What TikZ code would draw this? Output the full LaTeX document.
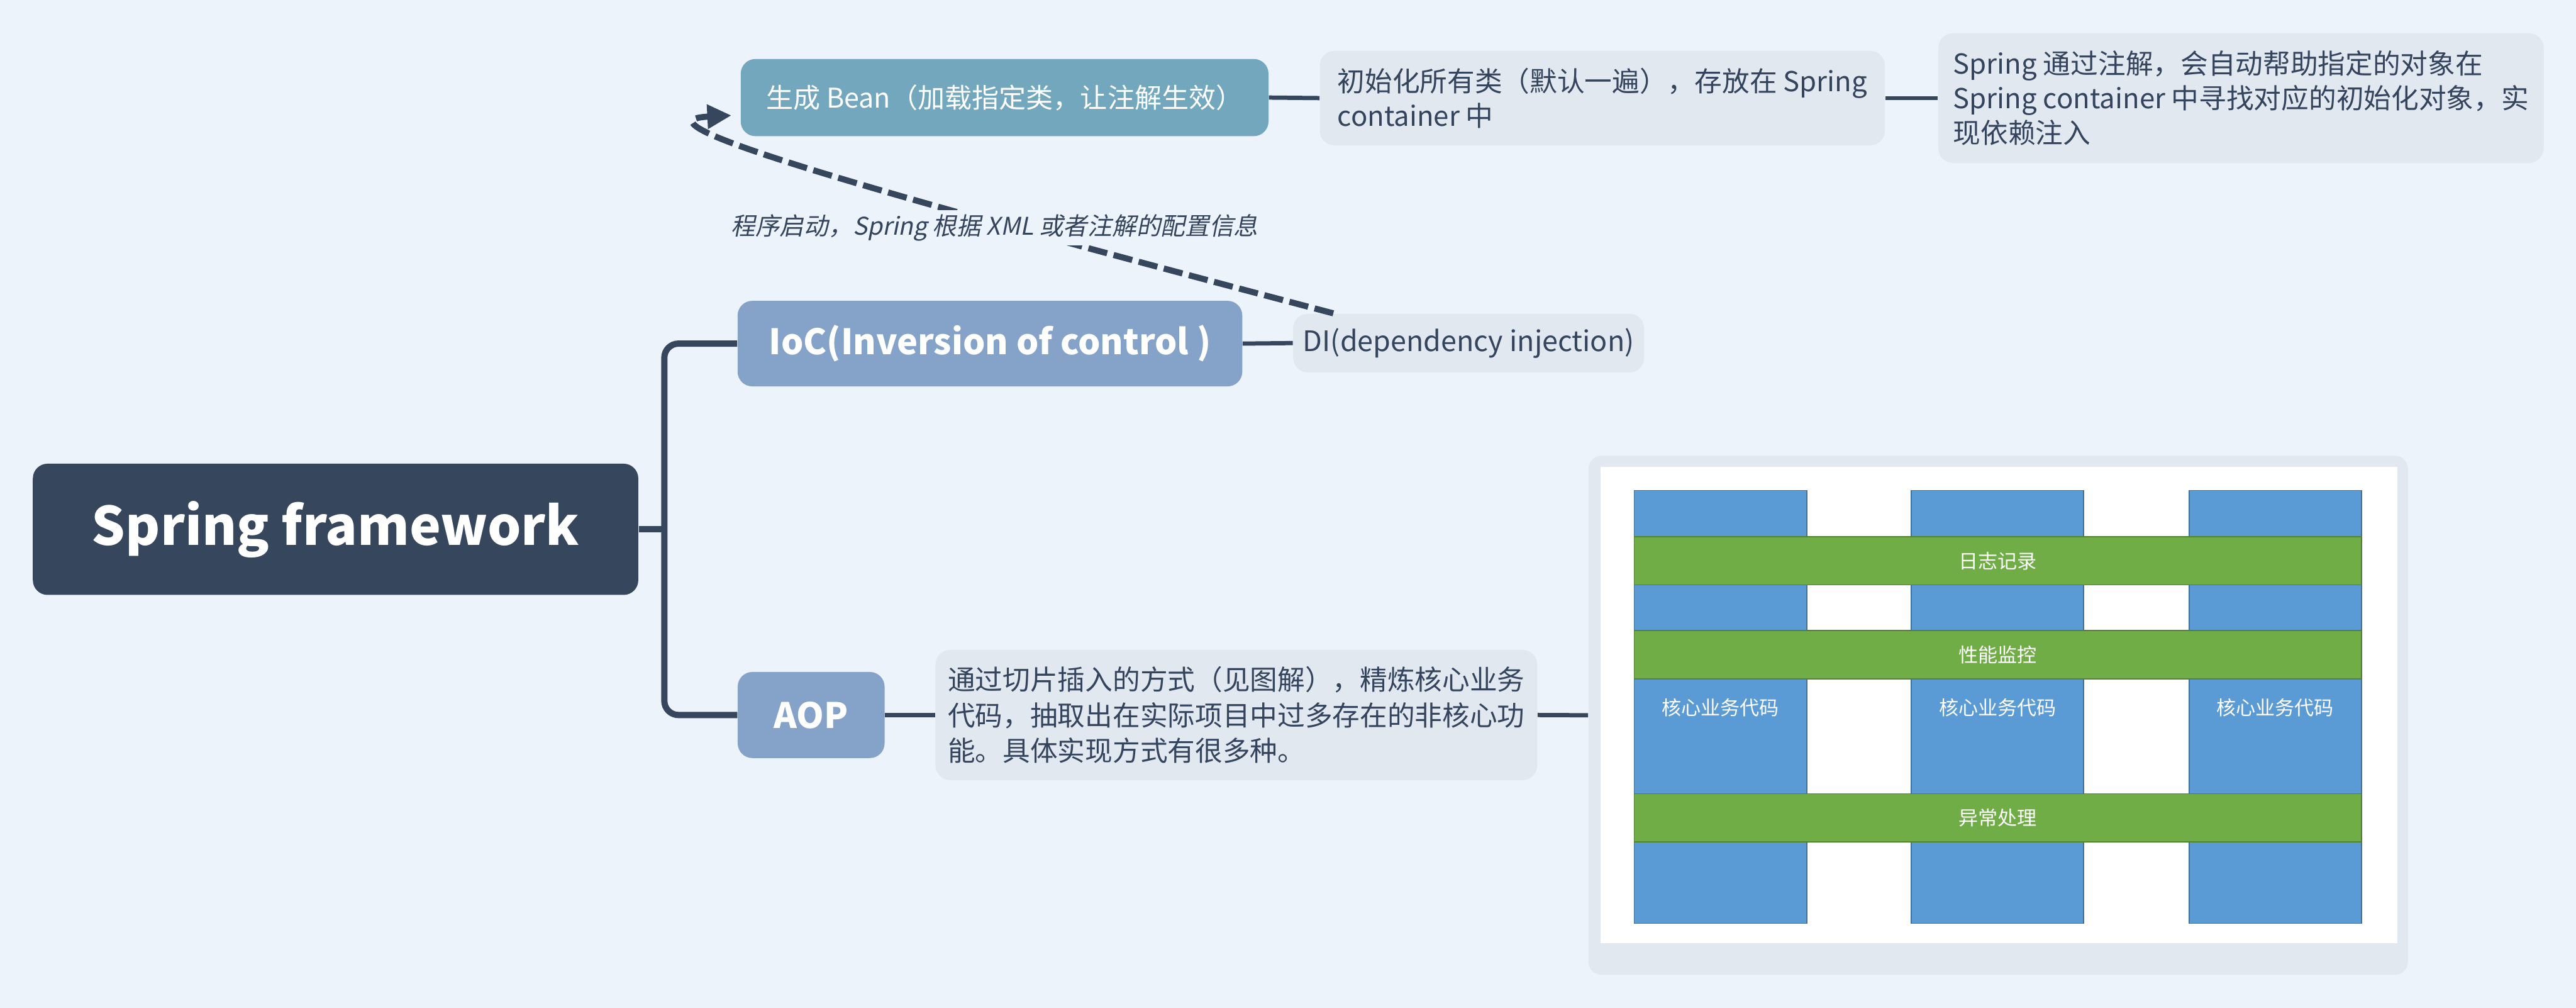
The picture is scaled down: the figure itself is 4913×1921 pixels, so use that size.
\documentclass[tikz,border=0pt]{standalone}
\usepackage{fontspec}
\setmainfont{Noto Sans CJK SC}
\newfontfamily\slantcjk{Noto Sans CJK SC}[FakeSlant=0.2]
\usepackage{tikz}
\usetikzlibrary{arrows.meta}

\definecolor{bgc}{HTML}{ECF3FA}
\definecolor{rootc}{HTML}{36465D}
\definecolor{topicc}{HTML}{85A3C9}
\definecolor{beanc}{HTML}{72A7BD}
\definecolor{notec}{HTML}{E1E8F0}
\definecolor{inkc}{HTML}{34445C}
\definecolor{codec}{HTML}{5B9BD5}
\definecolor{codeline}{HTML}{41719C}
\definecolor{aspc}{HTML}{70AD47}
\definecolor{aspline}{HTML}{548235}

\begin{document}
\begin{tikzpicture}[x=0.01cm, y=-0.01cm,
  topic/.style={rounded corners=0.28cm, inner sep=0pt, text=white},
  note/.style={fill=notec, rounded corners=0.28cm, inner sep=0pt, text=inkc,
    align=left, font=\fontsize{14.9}{18.8}\selectfont},
  branch/.style={draw=rootc, line width=3.4pt},
  twig/.style={draw=rootc, line width=2.3pt},
  small/.style={text=white, inner sep=0pt, font=\fontsize{10.6}{12}\selectfont}]
  % Canvas
  \useasboundingbox (0,0) rectangle (4913,1921);
  \fill[bgc] (0,0) rectangle (4913,1921);
  % Root and main topics
  \node[topic, fill=rootc, minimum width=11.54cm, minimum height=2.50cm,
    font=\fontsize{28.7}{34}\selectfont\bfseries] (root) at (640,1009) {Spring framework};
  \node[topic, fill=topicc, minimum width=9.62cm, minimum height=1.63cm,
    font=\fontsize{19}{23}\selectfont\bfseries] (ioc) at (1888,655) {IoC(Inversion of control )};
  \node[topic, fill=topicc, minimum width=2.80cm, minimum height=1.64cm,
    font=\fontsize{19}{23}\selectfont\bfseries] (aop) at (1547,1363) {AOP};
  \node[topic, fill=beanc, minimum width=10.06cm, minimum height=1.47cm,
    font=\fontsize{14.7}{18}\selectfont] (bean) at (1916,186) {生成 Bean（加载指定类，让注解生效）};
  % Notes
  \node[note, minimum width=10.77cm, minimum height=1.80cm] (init) at (3056,187)
    {初始化所有类（默认一遍），存放在 Spring\\container 中};
  \node[note, minimum width=11.54cm, minimum height=2.47cm] (inject) at (4274,187)
    {Spring 通过注解，会自动帮助指定的对象在\\Spring container 中寻找对应的初始化对象，实\\现依赖注入};
  \node[note, minimum width=6.69cm, minimum height=1.12cm, font=\fontsize{15.3}{18}\selectfont] (di) at (2801,654)
    {DI(dependency injection)};
  \node[note, minimum width=11.47cm, minimum height=2.48cm, font=\fontsize{14.9}{19.3}\selectfont] (aopnote) at (2358,1363)
    {通过切片插入的方式（见图解），精炼核心业务\\代码，抽取出在实际项目中过多存在的非核心功\\能。具体实现方式有很多种。};
  % AOP picture
  \node[fill=notec, rounded corners=0.25cm, minimum width=15.62cm, minimum height=9.89cm,
    inner sep=0pt] (frame) at (3811,1363.5) {};
  \fill[white] (3052,890) rectangle (4572,1798);
  \foreach \cx in {3117,3645,4175}
    \filldraw[fill=codec, draw=codeline, line width=0.5pt] (\cx,935) rectangle ++(329,825);
  \foreach \top in {1023,1202,1513}
    \filldraw[fill=aspc, draw=aspline, line width=0.5pt] (3117,\top) rectangle ++(1386,92);
  \node[small] (log) at (3810,1069) {日志记录};
  \node[small] (perf) at (3810,1248) {性能监控};
  \node[small] (err) at (3810,1559) {异常处理};
  \foreach \cx/\n in {3281/1,3810/2,4339/3}
    \node[small] (core\n) at (\cx,1349) {核心业务代码};
  % Connectors
  \coordinate (fork) at (1267,1009);
  \draw[branch] (root.east) -- (fork);
  \draw[branch, rounded corners=0.27cm] (fork) |- (ioc.west);
  \draw[branch, rounded corners=0.27cm] (fork) |- (aop.west);
  \draw[twig] (ioc.east) -- (di.west);
  \draw[twig] (bean.east) -- (init.west);
  \draw[twig] (init.east) -- (inject.west);
  \draw[twig] (aop.east) -- (aopnote.west);
  \draw[twig] (aopnote.east) -- (frame.west);
  % Relationship
  \draw[rootc, line width=3.3pt, dash pattern=on 10.5pt off 3.6pt,
    -{Triangle[length=0.46cm, width=0.44cm]}]
    ([xshift=-2.58cm]di.north) .. controls (1600,350) and (1200,230) .. ([xshift=-0.17cm, yshift=-0.34cm]bean.west);
  \node[fill=bgc, inner sep=0.08cm, text=inkc, font=\slantcjk\fontsize{13.2}{15}\selectfont]
    (startup) at (1897,434) {程序启动，Spring 根据 XML 或者注解的配置信息};
\end{tikzpicture}
\end{document}
